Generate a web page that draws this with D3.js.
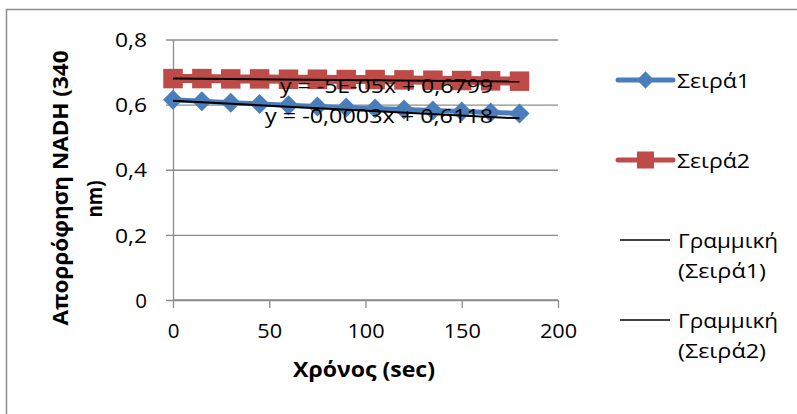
<!DOCTYPE html>
<html>
<head>
<meta charset="utf-8">
<script src="https://cdn.jsdelivr.net/npm/d3@7"></script>
<style>
  html, body { margin: 0; padding: 0; background: #fff; }
  svg { display: block; }
  text { font-family: "Open Sans", "Noto Sans", sans-serif; fill: #000; }
</style>
</head>
<body>
<svg id="chart" width="797" height="414"></svg>
<script>
// Absorbance of NADH at 340 nm over time, two series with linear trendlines
const timeSec = [0, 15, 30, 45, 60, 75, 90, 105, 120, 135, 150, 165, 180];
const series1 = [0.615, 0.610, 0.606, 0.602, 0.598, 0.594, 0.591, 0.588, 0.585, 0.582, 0.579, 0.576, 0.573];
const series2 = [0.680, 0.680, 0.679, 0.679, 0.678, 0.678, 0.677, 0.677, 0.676, 0.675, 0.674, 0.673, 0.672];
const seriesNames = ["Σειρά1", "Σειρά2"];
const trendNames = [["Γραμμική", "(Σειρά1)"], ["Γραμμική", "(Σειρά2)"]];
const trendSlopes = [-0.0003, -0.00005];
const trendIntercepts = [0.6118, 0.6799];
const trendLabels = ["y = -0,0003x + 0,6118", "y = -5E-05x + 0,6799"];
const xTicks = [0, 50, 100, 150, 200];
const yTicks = [0, 0.2, 0.4, 0.6, 0.8];
const xTitle = "Χρόνος (sec)";
const yTitle = ["Απορρόφηση NADH (340", "nm)"];

const colors = ["#4A7EBB", "#BE4B48"];
const gridColor = "#8c8c8c";
const fontSize = "20.5px";

const svg = d3.select("#chart");
const x = d3.scaleLinear().domain([0, 200]).range([173, 558]);
const y = d3.scaleLinear().domain([0, 0.8]).range([300, 39.5]);
const commaFmt = d3.formatLocale({ decimal: ",", thousands: ".", grouping: [3], currency: ["", "€"] }).format("~g");

// stretch a text element to a given drawn width
function fitWidth(sel, w) {
  sel.attr("textLength", w).attr("lengthAdjust", "spacingAndGlyphs");
}

// chart frame
svg.append("rect")
  .attr("x", 6.5).attr("y", 9.5).attr("width", 820).attr("height", 420)
  .attr("fill", "none").attr("stroke", gridColor).attr("stroke-width", 1.5);

// horizontal gridlines with crossing ticks on the value axis
const gridG = svg.append("g").attr("transform", "translate(166,0)")
  .call(d3.axisRight(y).tickValues(yTicks).tickSize(392).tickFormat(""));
gridG.select(".domain").remove();
gridG.selectAll(".tick line").attr("stroke", gridColor).attr("stroke-width", 1.3);

// value axis
const yAxisG = svg.append("g").attr("transform", `translate(${x(0)},0)`)
  .call(d3.axisLeft(y).tickValues(yTicks).tickSize(0).tickPadding(26).tickFormat(commaFmt));
yAxisG.select(".domain").attr("stroke", gridColor).attr("stroke-width", 1.3);
yAxisG.selectAll("text").style("font-size", fontSize).attr("dy", "0.35em")
  .each(function (d) { if (d !== 0) fitWidth(d3.select(this), 32); });

// time axis
const xAxisG = svg.append("g").attr("transform", `translate(0,${y(0)})`)
  .call(d3.axisBottom(x).tickValues(xTicks).tickSize(8).tickPadding(15).tickFormat(commaFmt));
xAxisG.select(".domain").attr("stroke", gridColor).attr("stroke-width", 1.3).attr("d", `M${x(0)},0H${x(200)}`);
xAxisG.selectAll(".tick line").attr("stroke", gridColor).attr("stroke-width", 1.3);
xAxisG.selectAll("text").style("font-size", fontSize)
  .each(function (d) { const n = String(d).length; if (n > 1) fitWidth(d3.select(this), n * 12.4); });

// axis titles
svg.append("text").attr("x", 364).attr("y", 377).attr("text-anchor", "middle")
  .style("font-size", fontSize).style("font-weight", "bold").text(xTitle)
  .call(fitWidth, 142);
const yTitleX = [68, 102];
const yTitleY = [188, 199];
const yTitleW = [275, 37];
yTitle.forEach((t, i) => {
  svg.append("text")
    .attr("transform", `translate(${yTitleX[i]},${yTitleY[i]}) rotate(-90)`)
    .attr("text-anchor", "middle")
    .style("font-size", fontSize).style("font-weight", "bold").text(t)
    .call(fitWidth, yTitleW[i]);
});

// series lines and markers
const line = d3.line().x((d, i) => x(timeSec[i])).y(d => y(d));
const diamond = d3.symbol().type(d3.symbolSquare).size(200);
const square = d3.symbol().type(d3.symbolSquare).size(380);

svg.append("path").datum(series1).attr("d", line)
  .attr("fill", "none").attr("stroke", colors[0]).attr("stroke-width", 5);
svg.append("g").selectAll("path").data(series1).join("path")
  .attr("d", diamond)
  .attr("transform", (d, i) => `translate(${x(timeSec[i])},${y(d)}) rotate(45)`)
  .attr("fill", colors[0]);

svg.append("path").datum(series2).attr("d", line)
  .attr("fill", "none").attr("stroke", colors[1]).attr("stroke-width", 9);
svg.append("g").selectAll("path").data(series2).join("path")
  .attr("d", square)
  .attr("transform", (d, i) => `translate(${x(timeSec[i])},${y(d)})`)
  .attr("fill", colors[1]);

// linear trendlines from the fitted equations
const t0 = timeSec[0], t1 = timeSec[timeSec.length - 1];
trendSlopes.forEach((m, k) => {
  const b = trendIntercepts[k];
  svg.append("line")
    .attr("x1", x(t0)).attr("y1", y(b + m * t0))
    .attr("x2", x(t1)).attr("y2", y(b + m * t1))
    .attr("stroke", "#000").attr("stroke-width", 2);
});

// trendline equations
const labelPos = [[265, 123], [280, 93]];
const labelW = [228, 213];
trendLabels.forEach((t, k) => {
  svg.append("text").attr("x", labelPos[k][0]).attr("y", labelPos[k][1])
    .style("font-size", fontSize).text(t).call(fitWidth, labelW[k]);
});

// legend
const legX = 618, legW = 55, legTextX = 677;
const legY = [80, 160];
seriesNames.forEach((name, k) => {
  const g = svg.append("g");
  g.append("line").attr("x1", legX).attr("x2", legX + legW).attr("y1", legY[k]).attr("y2", legY[k])
    .attr("stroke", colors[k]).attr("stroke-width", 5).attr("stroke-linecap", "round");
  g.append("path")
    .attr("d", k === 0 ? d3.symbol().type(d3.symbolSquare).size(150)() : d3.symbol().type(d3.symbolSquare).size(290)())
    .attr("transform", `translate(${legX + legW / 2},${legY[k]})` + (k === 0 ? " rotate(45)" : ""))
    .attr("fill", colors[k]);
  g.append("text").attr("x", legTextX).attr("y", legY[k] + 8).style("font-size", fontSize).text(name)
    .call(fitWidth, 73);
});
const trendLegY = [240, 320];
const trendTextW = [100, 88];
trendNames.forEach((lines, k) => {
  const g = svg.append("g");
  g.append("line").attr("x1", legX + 2).attr("x2", legX + legW - 3)
    .attr("y1", trendLegY[k]).attr("y2", trendLegY[k])
    .attr("stroke", "#000").attr("stroke-width", 1.5);
  lines.forEach((t, j) => {
    g.append("text").attr("x", legTextX + 1).attr("y", trendLegY[k] + 8 + j * 30)
      .style("font-size", fontSize).text(t).call(fitWidth, trendTextW[j]);
  });
});
</script>
</body>
</html>
